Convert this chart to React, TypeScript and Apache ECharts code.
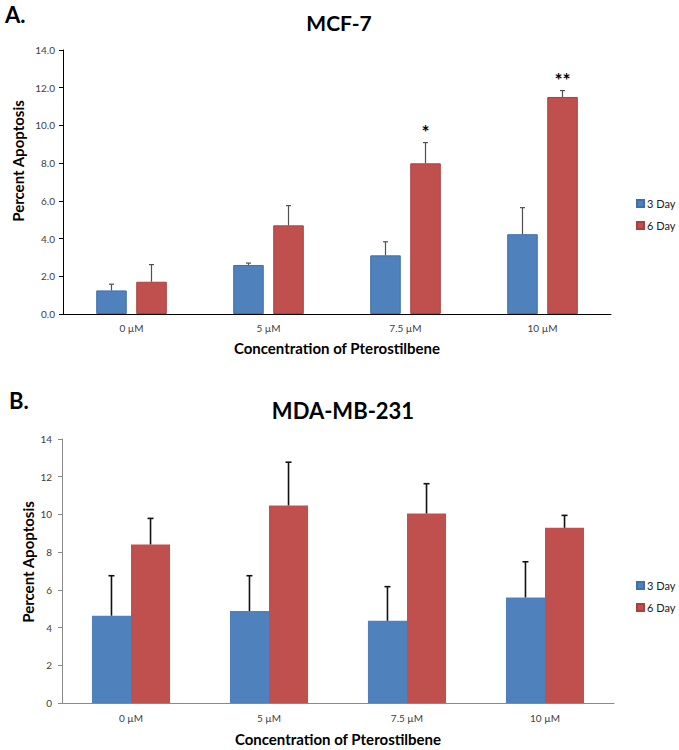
import React, { useEffect, useRef } from "react";
import * as echarts from "echarts";

// ---- data ----
const categories = ["0 µM", "5 µM", "7.5 µM", "10 µM"];
const seriesNames = ["3 Day", "6 Day"];
const mcf7Day3 = [1.25, 2.6, 3.11, 4.23];
const mcf7Day3Err = [0.33, 0.1, 0.72, 1.41];
const mcf7Day6 = [1.71, 4.7, 7.99, 11.51];
const mcf7Day6Err = [0.91, 1.05, 1.1, 0.34];
const mcf7Marks = ["", "", "*", "**"];
const mdaDay3 = [4.63, 4.88, 4.36, 5.6];
const mdaDay3Err = [2.12, 1.87, 1.81, 1.89];
const mdaDay6 = [8.41, 10.48, 10.05, 9.29];
const mdaDay6Err = [1.38, 2.29, 1.58, 0.66];
const yMin = 0;
const yMax = 14;
const yStep = 2;

const FONT = "Lato, 'Open Sans', sans-serif";
const BLUE = "#4F81BD";
const RED = "#C0504D";

function errSeries(
  values: number[],
  errs: number[],
  axis: number,
  side: number,
  frac: number,
  color: string,
  lw: number,
  cap: number,
  marks?: string[]
) {
  return {
    type: "custom",
    name: "err" + axis + side,
    xAxisIndex: axis,
    yAxisIndex: axis,
    silent: true,
    z: 5,
    data: values.map((v, i) => [i, v, v + errs[i]]),
    encode: { x: 0, y: [1, 2] },
    renderItem: (params: any, api: any) => {
      const i = api.value(0);
      const band = api.size([1, 0])[0];
      const base = api.coord([i, api.value(1)]);
      const top = api.coord([i, api.value(2)]);
      const x = base[0] + side * frac * band;
      const children: any[] = [
        {
          type: "line",
          shape: { x1: x, y1: base[1], x2: x, y2: top[1] },
          style: { stroke: color, lineWidth: lw },
        },
        {
          type: "line",
          shape: { x1: x - cap, y1: top[1], x2: x + cap, y2: top[1] },
          style: { stroke: color, lineWidth: lw },
        },
      ];
      const m = marks ? marks[params.dataIndex] : "";
      if (m) {
        children.push({
          type: "text",
          x: x,
          y: top[1] - 11,
          style: {
            text: m,
            fill: "#000",
            font: "bold 19px " + FONT,
            textAlign: "center",
            textVerticalAlign: "middle",
          },
        });
      }
      return { type: "group", children };
    },
  };
}

export default function App() {
  const ref = useRef<HTMLDivElement>(null);
  useEffect(() => {
    document.body.style.margin = "0";
    const chart = echarts.init(ref.current!, undefined, { renderer: "svg" });
    const topFrac = (0.223 + 0.069) / 2;
    const botFrac = 0.283 / 2;
    const axisLabelTop = { color: "#404040", fontSize: 10, fontFamily: FONT };
    const axisLabelBot = { color: "#404040", fontSize: 10, fontFamily: FONT };
    const nameStyle = { color: "#000", fontSize: 15, fontWeight: "bold", fontFamily: FONT };
    const legendText = { fontSize: 11, color: "#202020", fontFamily: FONT, padding: [0, 0, 0, -2] };
    const option: any = {
      animation: false,
      backgroundColor: "#fff",
      grid: [
        { left: 63, top: 50, width: 548, height: 264 },
        { left: 62, top: 439, width: 552, height: 264 },
      ],
      legend: [
        {
          data: seriesNames,
          orient: "vertical",
          left: 631,
          top: 193,
          itemWidth: 7,
          itemHeight: 7,
          itemGap: 11,
          icon: "rect",
          textStyle: legendText,
        },
        {
          data: seriesNames,
          orient: "vertical",
          left: 631,
          top: 575,
          itemWidth: 7,
          itemHeight: 7,
          itemGap: 11,
          icon: "rect",
          textStyle: legendText,
        },
      ],
      xAxis: [
        {
          type: "category",
          gridIndex: 0,
          data: categories,
          axisLine: { lineStyle: { color: "#000", width: 1 } },
          axisTick: { length: 4, lineStyle: { color: "#000" } },
          axisLabel: { ...axisLabelTop, margin: 9 },
          name: "Concentration of Pterostilbene",
          nameLocation: "middle",
          nameGap: 26,
          nameTextStyle: nameStyle,
        },
        {
          type: "category",
          gridIndex: 1,
          data: categories,
          axisLine: { lineStyle: { color: "#8a8a8a", width: 1 } },
          axisTick: { length: 4, lineStyle: { color: "#8a8a8a" } },
          axisLabel: { ...axisLabelBot, margin: 10 },
          name: "Concentration of Pterostilbene",
          nameLocation: "middle",
          nameGap: 28,
          nameTextStyle: nameStyle,
        },
      ],
      yAxis: [
        {
          type: "value",
          gridIndex: 0,
          min: yMin,
          max: yMax,
          interval: yStep,
          splitLine: { show: false },
          axisLine: { show: true, lineStyle: { color: "#000", width: 1 } },
          axisTick: { show: true, length: 4, lineStyle: { color: "#000" } },
          axisLabel: { ...axisLabelTop, margin: 8, formatter: (v: number) => v.toFixed(1) },
        },
        {
          type: "value",
          gridIndex: 1,
          min: yMin,
          max: yMax,
          interval: yStep,
          splitLine: { show: false },
          axisLine: { show: true, lineStyle: { color: "#8a8a8a", width: 1 } },
          axisTick: { show: true, length: 4, lineStyle: { color: "#8a8a8a" } },
          axisLabel: { ...axisLabelBot, margin: 10 },
        },
      ],
      series: [
        {
          type: "bar",
          name: seriesNames[0],
          xAxisIndex: 0,
          yAxisIndex: 0,
          data: mcf7Day3,
          barWidth: "22.3%",
          barGap: "31%",
          itemStyle: { color: BLUE, borderColor: "#3e6fa9", borderWidth: 1 },
        },
        {
          type: "bar",
          name: seriesNames[1],
          xAxisIndex: 0,
          yAxisIndex: 0,
          data: mcf7Day6,
          barWidth: "22.3%",
          barGap: "31%",
          itemStyle: { color: RED, borderColor: "#a9403d", borderWidth: 1 },
        },
        {
          type: "bar",
          name: seriesNames[0],
          xAxisIndex: 1,
          yAxisIndex: 1,
          data: mdaDay3,
          barWidth: "28.3%",
          barGap: "0%",
          itemStyle: { color: BLUE },
        },
        {
          type: "bar",
          name: seriesNames[1],
          xAxisIndex: 1,
          yAxisIndex: 1,
          data: mdaDay6,
          barWidth: "28.3%",
          barGap: "0%",
          itemStyle: { color: RED },
        },
        errSeries(mcf7Day3, mcf7Day3Err, 0, -1, topFrac, "#505050", 1.2, 2.5),
        errSeries(mcf7Day6, mcf7Day6Err, 0, 1, topFrac, "#505050", 1.2, 2.5, mcf7Marks),
        errSeries(mdaDay3, mdaDay3Err, 1, -1, botFrac, "#111", 1.6, 3),
        errSeries(mdaDay6, mdaDay6Err, 1, 1, botFrac, "#111", 1.6, 3),
      ],
      graphic: [
        { type: "text", left: 5, top: 3, style: { text: "A.", font: "bold 22px " + FONT, fill: "#000" } },
        { type: "text", left: 9, top: 389, style: { text: "B.", font: "bold 22px " + FONT, fill: "#000" } },
        {
          type: "text",
          x: 339,
          y: 22,
          style: { text: "MCF-7", font: "bold 21px " + FONT, fill: "#000", textAlign: "center", textVerticalAlign: "middle" },
        },
        {
          type: "text",
          x: 343,
          y: 410,
          style: { text: "MDA-MB-231", font: "bold 22px " + FONT, fill: "#000", textAlign: "center", textVerticalAlign: "middle" },
        },
        {
          type: "text",
          x: 18,
          y: 161,
          rotation: Math.PI / 2,
          style: { text: "Percent Apoptosis", font: "bold 15px " + FONT, fill: "#000", textAlign: "center", textVerticalAlign: "middle" },
        },
        {
          type: "text",
          x: 28,
          y: 562,
          rotation: Math.PI / 2,
          style: { text: "Percent Apoptosis", font: "bold 15px " + FONT, fill: "#000", textAlign: "center", textVerticalAlign: "middle" },
        },
      ],
    };
    chart.setOption(option);
    return () => chart.dispose();
  }, []);
  return (
    <div
      ref={ref}
      style={{ width: 679, height: 750, position: "absolute", left: 0, top: 0, background: "#fff" }}
    />
  );
}
